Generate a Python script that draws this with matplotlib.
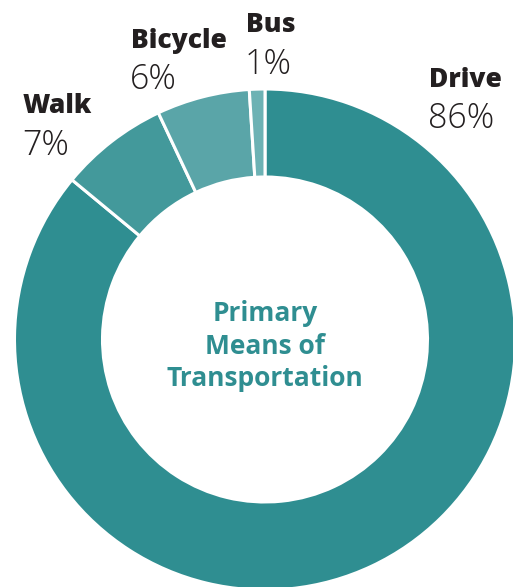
import matplotlib.pyplot as plt

# data
modes = ["Drive", "Walk", "Bicycle", "Bus"]
shares = [86, 7, 6, 1]
colors = ["#2f8e91", "#43999b", "#5aa5a8", "#6db2b4"]

W, H = 513, 587
fig = plt.figure(figsize=(W / 100, H / 100), dpi=100)
ax = fig.add_axes([0, 0, 1, 1])

family = ["Open Sans", "DejaVu Sans"]

cx, cy = 265, H - 339.5
radius = 250.5
ax.pie(shares, colors=colors, startangle=90, counterclock=False,
       center=(cx, cy), radius=radius, frame=True,
       wedgeprops=dict(width=radius - 162.5, edgecolor="white", linewidth=2.2))
ax.set_xlim(0, W)
ax.set_ylim(0, H)
ax.set_aspect("equal")
ax.axis("off")

# label anchors (left x, baseline of name, baseline of percent) in pixels from top
label_pos = {
    "Drive": (429, 87, 128),
    "Walk": (23, 113, 155),
    "Bicycle": (131, 47.5, 89),
    "Bus": (246, 32.5, 74),
}
for name, pct in zip(modes, shares):
    x, y1, y2 = label_pos[name]
    ax.text(x, H - y1, name, family=family, fontweight="heavy", fontsize=19,
            color="#231f20", ha="left", va="baseline")
    ax.text(x - 1, H - y2, f"{pct}%", family=family, fontweight="light", fontsize=24.5,
            color="#231f20", ha="left", va="baseline")

center_lines = ["Primary", "Means of", "Transportation"]
for i, line in enumerate(center_lines):
    ax.text(cx, H - (321 + 32.5 * i), line, family=family, fontweight="bold",
            fontsize=19, color="#2f8e91", ha="center", va="baseline")

fig.savefig("out.png", dpi=100)
